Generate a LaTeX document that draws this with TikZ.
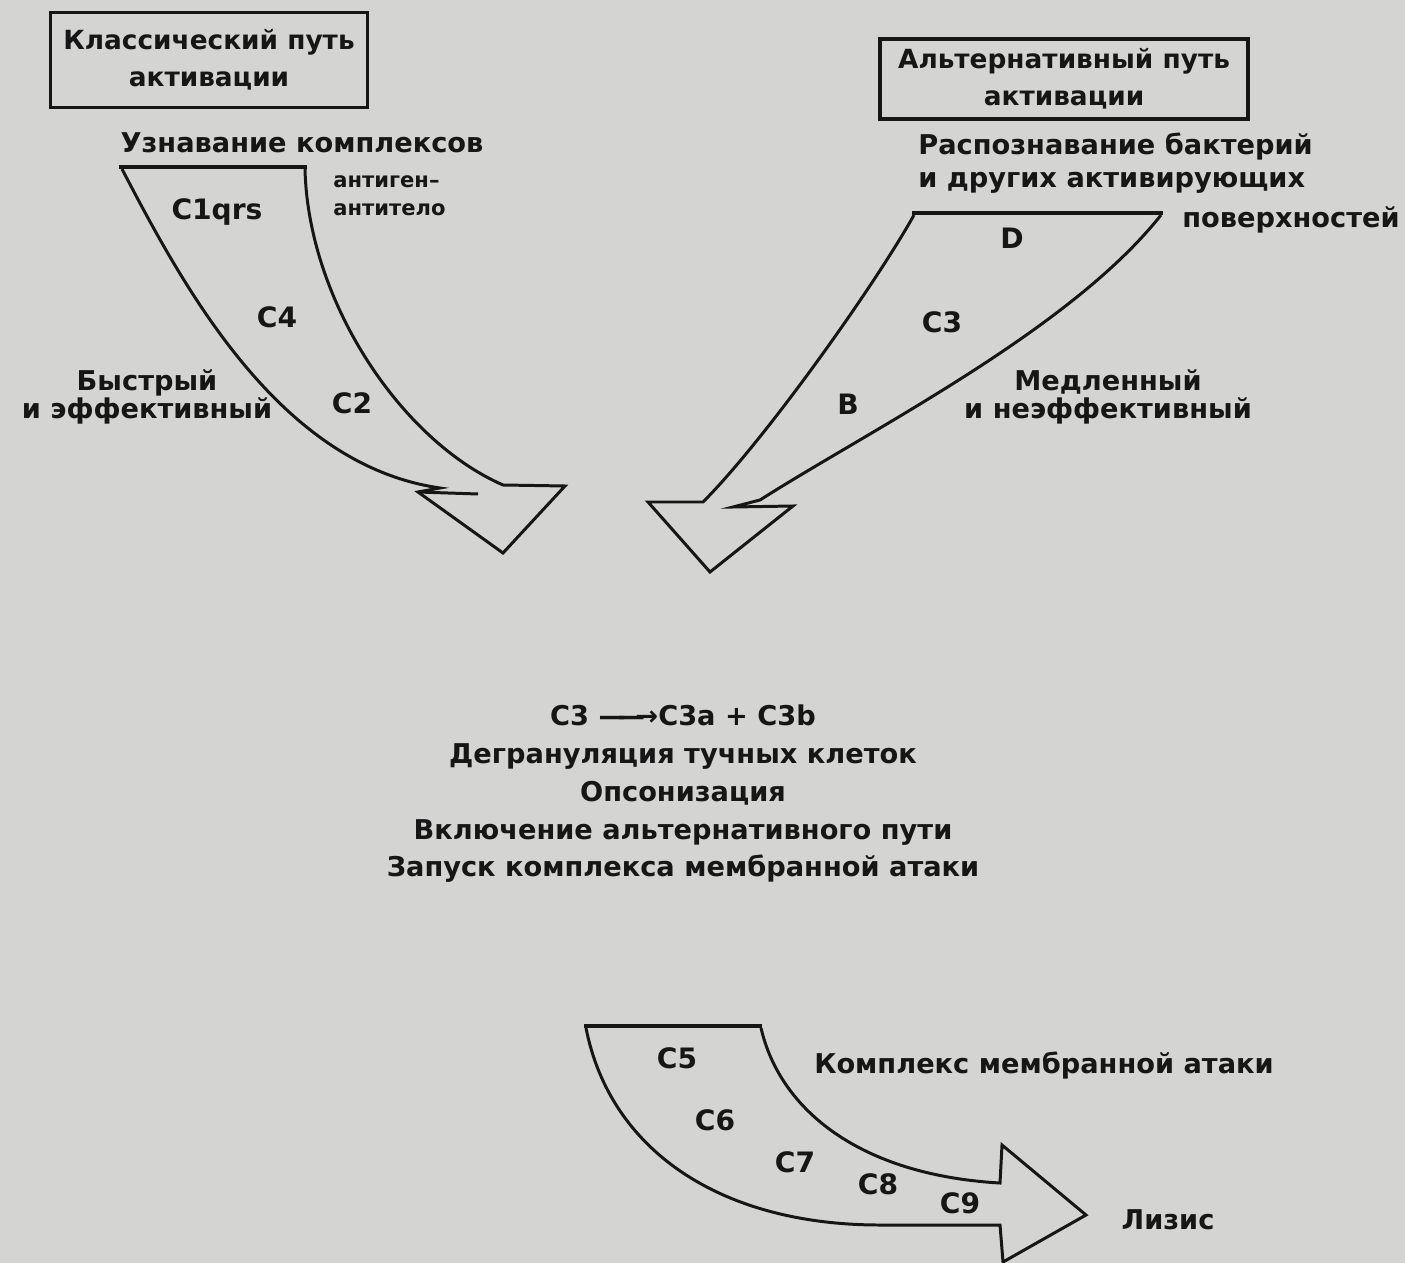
\documentclass[tikz,border=0pt]{standalone}
\usepackage{fontspec}
\setmainfont{DejaVu Sans}
\usepackage{tikz}
\usetikzlibrary{positioning}
\definecolor{scangray}{RGB}{212,212,210}
\definecolor{ink}{RGB}{22,22,22}

\begin{document}
\begin{tikzpicture}[
    x=0.02cm, y=-0.02cm,
    node distance=0.2cm,
    every node/.style={text=ink, inner sep=0pt},
    pathbox/.style={rectangle, draw=ink, line width=1.9pt, align=center, font=\fontsize{15}{21}\selectfont\bfseries},
    label/.style={align=center, font=\fontsize{15.5}{18}\selectfont\bfseries},
    note/.style={align=left, font=\fontsize{12}{16}\selectfont\bfseries},
    factor/.style={font=\fontsize{16}{18}\selectfont\bfseries},
    outline/.style={draw=ink, line width=1.7pt, line join=miter},
    bar/.style={draw=ink, line width=2.8pt}
]

% background of the page
\fill[scangray] (0,0) rectangle (1405,1263);
\useasboundingbox (0,0) rectangle (1405,1263);

% Classical pathway
\node[pathbox, minimum width=6.34cm, minimum height=1.9cm] (classic_box) at (209,60) {Классический путь\\активации};
\node[label] (classic_rec) at (302,143) {Узнавание комплексов};
\node[note, anchor=west] (classic_ag) at (333,196) {антиген–\\антитело};
\node[label, font=\fontsize{15.5}{16}\selectfont\bfseries] (classic_speed) at (147,397) {Быстрый\\и эффективный};

\draw[bar] (119,167) -- (307,167);
\draw[outline] (122,169) .. controls (185,290) and (280,465) .. (440,488)
    -- (418,492) -- (503,553) -- (565,486) -- (503,485)
    .. controls (400,440) and (308,300) .. (305,169);
\draw[outline] (418,492) -- (478,494);

\node[factor] (c1qrs) at (217,212) {C1qrs};
\node[factor] (c4) at (277,317) {C4};
\node[factor] (c2) at (352,403) {C2};

% Alternative pathway
\node[pathbox, minimum width=7.36cm, minimum height=1.6cm] (alt_box) at (1064,79) {Альтернативный путь\\активации};
\node[label, anchor=west] (alt_rec) at (918,147) {Распознавание бактерий};
\node[label, below=0.22cm of alt_rec.south west, anchor=north west] (alt_rec2) {и других активирующих};
\node[label, anchor=west] (alt_rec3) at (1182,220) {поверхностей};
\node[label, font=\fontsize{15.5}{16}\selectfont\bfseries] (alt_speed) at (1108,397) {Медленный\\и неэффективный};

\draw[bar] (912,213) -- (1163,213);
\draw[outline] (914,215) .. controls (875,285) and (765,440) .. (703,502)
    -- (648,502) -- (710,572) -- (793,506) -- (733,507) -- (760,500)
    .. controls (870,430) and (1070,330) .. (1161,215);

\node[factor] (d) at (1012,238) {D};
\node[factor] (c3) at (942,322) {C3};
\node[factor] (b) at (848,404) {B};

% Common part
\node[label, font=\fontsize{15.5}{21.5}\selectfont\bfseries] (effects) at (683,794) {C3 —\kern-0.3em—\kern-0.35em→C3a + C3b\\Дегрануляция тучных клеток\\Опсонизация\\Включение альтернативного пути\\Запуск комплекса мембранной атаки};

% Membrane attack complex
\draw[bar] (584,1026) -- (762,1026);
\draw[outline] (586,1028) .. controls (610,1150) and (720,1225) .. (880,1225) -- (1000,1225)
    -- (1003,1262) -- (1086,1215) -- (1002,1145) -- (1000,1183)
    .. controls (860,1175) and (780,1110) .. (761,1028);

\node[factor] (c5) at (677,1058) {C5};
\node[factor] (c6) at (715,1120) {C6};
\node[factor] (c7) at (795,1162) {C7};
\node[factor] (c8) at (878,1184) {C8};
\node[factor] (c9) at (960,1203) {C9};
\node[label] (mac) at (1044,1066) {Комплекс мембранной атаки};
\node[label] (lysis) at (1168,1220) {Лизис};

\end{tikzpicture}
\end{document}
